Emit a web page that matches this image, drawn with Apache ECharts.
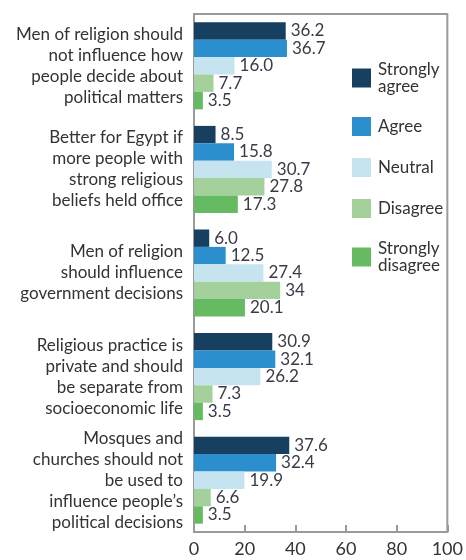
<!DOCTYPE html>
<html>
<head>
<meta charset="utf-8">
<script src="https://cdn.jsdelivr.net/npm/echarts@6/dist/echarts.min.js"></script>
<style>
  html, body { margin: 0; padding: 0; background: #fff; }
  #chart { width: 466px; height: 560px; }
</style>
</head>
<body>
<div id="chart"></div>
<script>
// Survey statements (top to bottom)
const statements = [
  'Men of religion should\nnot influence how\npeople decide about\npolitical matters',
  'Better for Egypt if\nmore people with\nstrong religious\nbeliefs held office',
  'Men of religion\nshould influence\ngovernment decisions',
  'Religious practice is\nprivate and should\nbe separate from\nsocioeconomic life',
  'Mosques and\nchurches should not\nbe used to\ninfluence people\u2019s\npolitical decisions'
];

// Response shares, percent, as printed next to each bar
const stronglyAgree    = ['36.2', '8.5', '6.0', '30.9', '37.6'];
const agree            = ['36.7', '15.8', '12.5', '32.1', '32.4'];
const neutral          = ['16.0', '30.7', '27.4', '26.2', '19.9'];
const disagree         = ['7.7', '27.8', '34', '7.3', '6.6'];
const stronglyDisagree = ['3.5', '17.3', '20.1', '3.5', '3.5'];

const responseNames = ['Strongly\nagree', 'Agree', 'Neutral', 'Disagree', 'Strongly\ndisagree'];
const responseColors = ['#163f60', '#2b8fce', '#c6e4f0', '#a3d09b', '#66bb62'];
const responseValues = [stronglyAgree, agree, neutral, disagree, stronglyDisagree];

// Horizontal axis ticks
const axisMin = 0, axisMax = 100, axisStep = 20;

const FONT = 'Lato';
const TEXT = '#333';
const FRAME = '#9a9a9a';

const chart = echarts.init(document.getElementById('chart'), null, { renderer: 'canvas' });

const series = responseNames.map((name, i) => ({
  name: name,
  type: 'bar',
  barGap: '0%',
  barCategoryGap: '16%',
  itemStyle: { color: responseColors[i] },
  data: responseValues[i].map(v => ({ value: parseFloat(v), text: v })),
  label: {
    show: true,
    position: 'right',
    distance: 5,
    fontFamily: FONT,
    fontSize: 17,
    color: '#3a3a48',
    textBorderColor: '#fff',
    textBorderWidth: 2,
    formatter: p => p.data.text
  }
}));

chart.setOption({
  animation: false,
  textStyle: { fontFamily: FONT },
  grid: {
    left: 194, right: 13, top: 14, bottom: 28,
    show: true, borderColor: FRAME, borderWidth: 2, backgroundColor: 'transparent'
  },
  legend: {
    orient: 'vertical',
    left: 347, top: 56,
    icon: 'rect',
    itemWidth: 19, itemHeight: 19,
    itemGap: 22,
    data: responseNames,
    textStyle: { fontFamily: FONT, fontSize: 17, lineHeight: 17, color: TEXT, padding: [0, 0, 0, 2] }
  },
  xAxis: {
    type: 'value',
    min: axisMin, max: axisMax, interval: axisStep,
    splitLine: { show: false },
    axisLine: { show: false },
    axisTick: { show: true, inside: true, length: 7, lineStyle: { color: FRAME, width: 2 } },
    axisLabel: { fontFamily: FONT, fontSize: 18, color: TEXT, margin: 8 }
  },
  yAxis: {
    type: 'category',
    inverse: true,
    data: statements,
    axisLine: { show: false },
    axisTick: { show: false },
    axisLabel: { fontFamily: FONT, fontSize: 17, lineHeight: 21, color: TEXT, margin: 11, align: 'right' }
  },
  series: series
});
</script>
</body>
</html>
